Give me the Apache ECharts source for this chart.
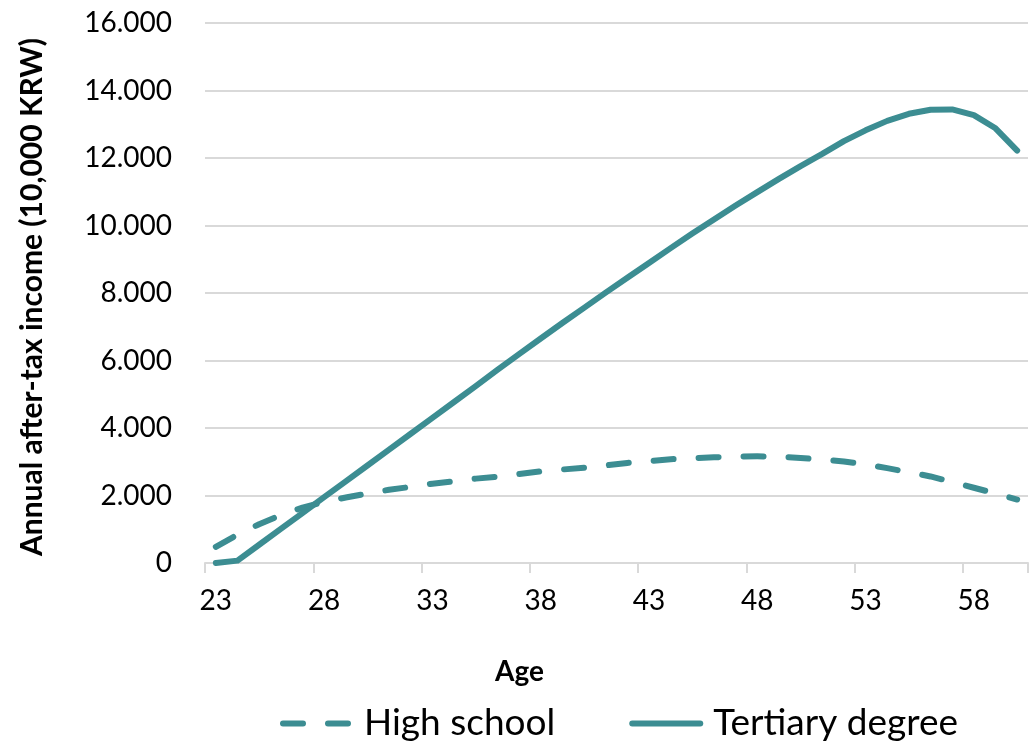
<!DOCTYPE html>
<html>
<head>
<meta charset="utf-8">
<script src="https://cdn.jsdelivr.net/npm/echarts@6/dist/echarts.min.js"></script>
<style>
  html, body { margin: 0; padding: 0; background: #ffffff; }
  #chart { width: 1033px; height: 747px; }
</style>
</head>
<body>
<div id="chart"></div>
<script>
// Age on the horizontal axis (one category per year)
const ages = [23,24,25,26,27,28,29,30,31,32,33,34,35,36,37,38,39,40,41,42,43,44,45,46,47,48,49,50,51,52,53,54,55,56,57,58,59,60];

// Annual after-tax income, in units of 10,000 KRW
const highSchool = [480,840,1150,1420,1640,1810,1940,2060,2170,2255,2350,2420,2500,2555,2635,2715,2770,2825,2890,2965,3020,3075,3105,3130,3155,3160,3155,3110,3070,3010,2920,2810,2690,2565,2400,2230,2060,1880];
const tertiary = [0,70,540,1010,1480,1950,2420,2890,3360,3830,4300,4770,5240,5720,6190,6650,7110,7560,8010,8450,8890,9330,9760,10180,10590,10990,11380,11760,12120,12500,12820,13100,13310,13430,13440,13270,12880,12220];

const seriesNames = ['High school', 'Tertiary degree'];
const yTicks = { min: 0, max: 16000, step: 2000 };

const teal = '#3C8D92';
const fontFamily = 'Lato, "Open Sans", sans-serif';

// 12000 -> "12.000"
function dotThousands(v) {
  return String(v).replace(/\B(?=(\d{3})+(?!\d))/g, '.');
}

const chart = echarts.init(document.getElementById('chart'), null, { renderer: 'canvas' });

chart.setOption({
  animation: false,
  backgroundColor: '#ffffff',
  textStyle: { fontFamily: fontFamily, color: '#000000' },
  grid: { left: 205, right: 5, top: 23, bottom: 184, containLabel: false },
  legend: {
    top: 700,
    left: 275,
    itemWidth: 68,
    itemHeight: 14,
    itemGap: 74,
    data: seriesNames,
    // legend keys show only the line, without a point marker
    itemStyle: { opacity: 0 },
    lineStyle: { width: 6, cap: 'round' },
    textStyle: { fontSize: 37, color: '#000000', fontFamily: fontFamily, padding: [0, 0, 0, 8] }
  },
  xAxis: {
    type: 'category',
    data: ages,
    boundaryGap: true,
    name: 'Age',
    nameLocation: 'middle',
    nameGap: 95,
    nameTextStyle: { fontSize: 28, fontWeight: 'bold', color: '#000000', padding: [0, 194, 0, 0] },
    axisLine: { show: true, lineStyle: { color: '#D9D9D9', width: 2 } },
    axisTick: { show: true, interval: 4, length: 10, lineStyle: { color: '#D9D9D9', width: 2 } },
    axisLabel: { interval: 4, fontSize: 28, color: '#000000', margin: 24 },
    splitLine: { show: false }
  },
  yAxis: {
    type: 'value',
    min: yTicks.min,
    max: yTicks.max,
    interval: yTicks.step,
    name: 'Annual after-tax income (10,000 KRW)',
    nameLocation: 'middle',
    nameGap: 158,
    nameRotate: 90,
    nameTextStyle: { fontSize: 30, fontWeight: 'bold', color: '#000000', padding: [0, 8, 0, 0] },
    axisLine: { show: false },
    axisTick: { show: false },
    axisLabel: { fontSize: 28, color: '#000000', margin: 33, formatter: dotThousands },
    splitLine: { show: true, lineStyle: { color: '#D9D9D9', width: 2 } }
  },
  series: [
    {
      name: seriesNames[0],
      type: 'line',
      data: highSchool,
      symbol: 'none',
      smooth: false,
      color: teal,
      lineStyle: { color: teal, width: 6, type: [20, 25], cap: 'round', join: 'round' }
    },
    {
      name: seriesNames[1],
      type: 'line',
      data: tertiary,
      symbol: 'none',
      smooth: false,
      color: teal,
      lineStyle: { color: teal, width: 6, type: 'solid', cap: 'round', join: 'round' }
    }
  ]
});
</script>
</body>
</html>
